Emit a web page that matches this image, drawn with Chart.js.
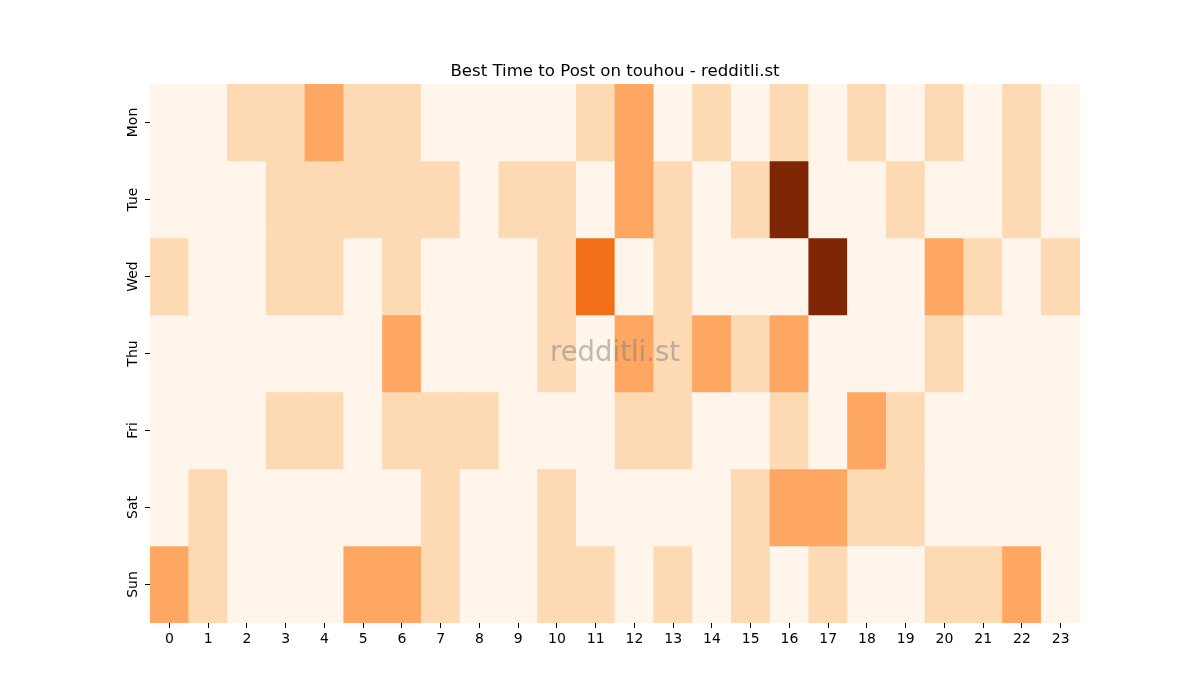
<!DOCTYPE html>
<html>
<head>
<meta charset="utf-8">
<title>Best Time to Post on touhou</title>
<script src="https://cdn.jsdelivr.net/npm/chart.js@4/dist/chart.umd.min.js"></script>
<style>
  html, body { margin: 0; padding: 0; background: #fff; }
  #wrap { width: 1200px; height: 700px; }
</style>
</head>
<body>
<div id="wrap"><canvas id="heat"></canvas></div>
<script>
'use strict';

// ── data ─────────────────────────────────────────────
const hours = ['0','1','2','3','4','5','6','7','8','9','10','11','12','13','14','15','16','17','18','19','20','21','22','23'];
const days  = ['Mon', 'Tue', 'Wed', 'Thu', 'Fri', 'Sat', 'Sun'];

// posts per hour, one row per day
const mon = [0,0,1,1,2,1,1,0,0,0,0,1,2,0,1,0,1,0,1,0,1,0,1,0];
const tue = [0,0,0,1,1,1,1,1,0,1,1,0,2,1,0,1,5,0,0,1,0,0,1,0];
const wed = [1,0,0,1,1,0,1,0,0,0,1,3,0,1,0,0,0,5,0,0,2,1,0,1];
const thu = [0,0,0,0,0,0,2,0,0,0,1,0,2,1,2,1,2,0,0,0,1,0,0,0];
const fri = [0,0,0,1,1,0,1,1,1,0,0,0,1,1,0,0,1,0,2,1,0,0,0,0];
const sat = [0,1,0,0,0,0,0,1,0,0,1,0,0,0,0,1,2,2,1,1,0,0,0,0];
const sun = [2,1,0,0,0,2,2,1,0,0,1,1,0,1,0,1,0,1,0,0,1,1,2,0];

const rows = [mon, tue, wed, thu, fri, sat, sun];

// Oranges colour steps, indexed by count
const palette = ['#fff5eb', '#fdd9b4', '#fda762', '#f3701b', '#bf4207', '#7f2704'];

const FONT = '"DejaVu Sans", sans-serif';

// stacked bars of height 1 make the cells
const datasets = rows.map((r, i) => ({
  label: days[i],
  data: r.map(() => 1),
  backgroundColor: r.map(v => palette[v]),
  borderWidth: 0,
  barPercentage: 1,
  categoryPercentage: 1,
  stack: 'grid'
}));

// rotated day labels + title + watermark
const decor = {
  id: 'decor',
  afterDraw(chart) {
    const { ctx, chartArea: a, scales: { y } } = chart;
    ctx.save();
    ctx.fillStyle = '#000';
    ctx.font = `14px ${FONT}`;
    ctx.textAlign = 'center';
    ctx.textBaseline = 'middle';
    days.forEach((d, i) => {
      const py = y.getPixelForValue(i + 0.5);
      ctx.save();
      ctx.translate(a.left - 17, py);
      ctx.rotate(-Math.PI / 2);
      ctx.fillText(d, 0, 0);
      ctx.restore();
    });

    ctx.font = `16.6px ${FONT}`;
    ctx.textBaseline = 'alphabetic';
    ctx.fillText('Best Time to Post on touhou - redditli.st', (a.left + a.right) / 2, a.top - 8);

    ctx.font = `27.5px ${FONT}`;
    ctx.textBaseline = 'middle';
    ctx.fillStyle = 'rgba(128,128,128,0.5)';
    ctx.fillText('redditli.st', (a.left + a.right) / 2, (a.top + a.bottom) / 2);
    ctx.restore();
  }
};

new Chart(document.getElementById('heat'), {
  type: 'bar',
  data: { labels: hours, datasets },
  options: {
    responsive: true,
    maintainAspectRatio: false,
    animation: false,
    layout: { padding: { top: 84, right: 120, bottom: 0, left: 0 } },
    plugins: {
      legend: { display: false },
      tooltip: { enabled: false }
    },
    scales: {
      x: {
        stacked: true,
        border: { display: false },
        grid: { offset: false, drawOnChartArea: false, drawTicks: true, tickLength: 5, color: '#000', lineWidth: 1 },
        ticks: { color: '#000', font: { family: FONT, size: 14 }, padding: 3, maxRotation: 0, autoSkip: false },
        afterFit: s => { s.height = 77; }
      },
      y: {
        stacked: true,
        reverse: true,
        min: 0,
        max: 7,
        border: { display: false },
        grid: { drawOnChartArea: false, drawTicks: true, tickLength: 5, color: '#000', lineWidth: 1 },
        ticks: { display: false },
        afterBuildTicks: s => { s.ticks = days.map((d, i) => ({ value: i + 0.5 })); },
        afterFit: s => { s.width = 150; }
      }
    }
  },
  plugins: [decor]
});
</script>
</body>
</html>
